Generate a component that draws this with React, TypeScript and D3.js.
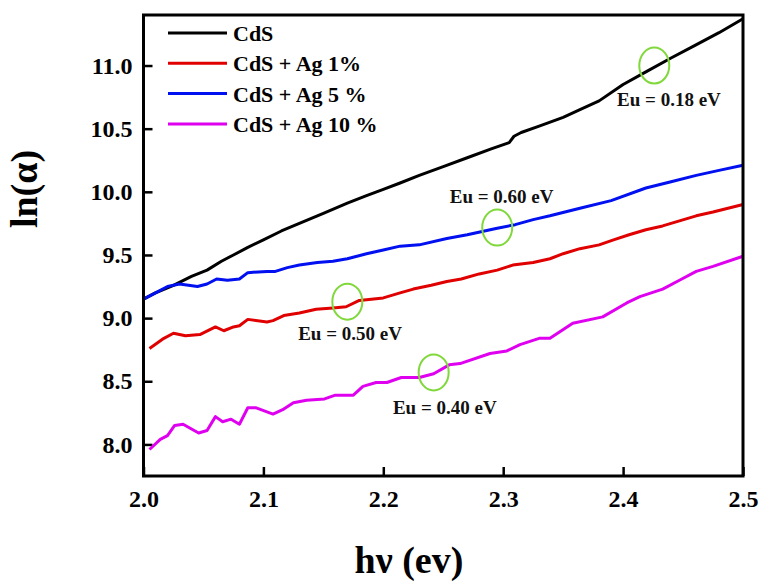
import { useRef, useEffect } from "react"
import * as d3 from "d3"

// hv (eV) vs ln(alpha)
const cds: [number, number][] = [
  [2.0, 9.15], [2.01, 9.2], [2.025, 9.26], [2.04, 9.33], [2.053, 9.38], [2.065, 9.45],
  [2.075, 9.5], [2.087, 9.56], [2.1, 9.62], [2.115, 9.69], [2.13, 9.75], [2.15, 9.83],
  [2.17, 9.91], [2.186, 9.97], [2.2, 10.02], [2.214, 10.07], [2.23, 10.13], [2.25, 10.2],
  [2.27, 10.27], [2.29, 10.34], [2.305, 10.39], [2.309, 10.44], [2.315, 10.47], [2.33, 10.52],
  [2.35, 10.59], [2.364, 10.65], [2.38, 10.72], [2.4, 10.85], [2.419, 10.95], [2.44, 11.06],
  [2.46, 11.16], [2.48, 11.26], [2.5, 11.37],
]

const cdsAg1: [number, number][] = [
  [2.005, 8.76], [2.017, 8.84], [2.025, 8.88], [2.035, 8.86], [2.047, 8.87], [2.06, 8.93],
  [2.067, 8.9], [2.075, 8.93], [2.08, 8.94], [2.087, 8.99], [2.103, 8.97], [2.108, 8.98],
  [2.117, 9.02], [2.13, 9.04], [2.144, 9.07], [2.158, 9.08], [2.169, 9.09], [2.18, 9.14],
  [2.2, 9.16], [2.214, 9.2], [2.225, 9.23], [2.24, 9.26], [2.253, 9.29], [2.265, 9.31],
  [2.28, 9.35], [2.295, 9.38], [2.308, 9.42], [2.325, 9.44], [2.339, 9.47], [2.35, 9.51],
  [2.364, 9.55], [2.38, 9.58], [2.392, 9.62], [2.405, 9.66], [2.419, 9.7], [2.433, 9.73],
  [2.447, 9.77], [2.461, 9.81], [2.475, 9.84], [2.5, 9.9],
]

const cdsAg5: [number, number][] = [
  [2.0, 9.15], [2.01, 9.2], [2.02, 9.25], [2.03, 9.27], [2.045, 9.25], [2.053, 9.27],
  [2.061, 9.31], [2.07, 9.3], [2.08, 9.31], [2.087, 9.36], [2.103, 9.37], [2.11, 9.37],
  [2.12, 9.4], [2.13, 9.42], [2.145, 9.44], [2.158, 9.45], [2.17, 9.47], [2.186, 9.51],
  [2.2, 9.54], [2.214, 9.57], [2.23, 9.58], [2.253, 9.63], [2.27, 9.66], [2.294, 9.71],
  [2.31, 9.74], [2.325, 9.78], [2.339, 9.81], [2.364, 9.87], [2.39, 9.93], [2.419, 10.03],
  [2.44, 10.08], [2.461, 10.13], [2.48, 10.17], [2.5, 10.21],
]

const cdsAg10: [number, number][] = [
  [2.005, 7.96], [2.014, 8.04], [2.02, 8.07], [2.026, 8.15], [2.033, 8.16], [2.046, 8.09],
  [2.053, 8.11], [2.06, 8.22], [2.066, 8.18], [2.073, 8.2], [2.08, 8.16], [2.087, 8.29],
  [2.094, 8.29], [2.108, 8.24], [2.117, 8.28], [2.125, 8.33], [2.136, 8.35], [2.151, 8.36],
  [2.16, 8.39], [2.175, 8.39], [2.183, 8.46], [2.194, 8.49], [2.203, 8.49], [2.215, 8.53],
  [2.23, 8.53], [2.242, 8.56], [2.255, 8.63], [2.264, 8.64], [2.289, 8.72], [2.303, 8.74],
  [2.314, 8.79], [2.33, 8.84], [2.339, 8.84], [2.358, 8.96], [2.383, 9.01], [2.403, 9.12],
  [2.414, 9.17], [2.433, 9.23], [2.447, 9.3], [2.461, 9.37], [2.475, 9.41], [2.5, 9.49],
]

const seriesNames = ["CdS", "CdS + Ag 1%", "CdS + Ag 5 %", "CdS + Ag 10 %"]
const seriesColors = ["#000000", "#e00000", "#0010f0", "#e000f0"]
const seriesData = [cds, cdsAg1, cdsAg5, cdsAg10]

const xTicks = [2.0, 2.1, 2.2, 2.3, 2.4, 2.5]
const yTicks = [8.0, 8.5, 9.0, 9.5, 10.0, 10.5, 11.0]

// Urbach energy markers: circle centre and label anchor, in data units
const urbachLabels = ["Eu = 0.18 eV", "Eu = 0.60 eV", "Eu = 0.50 eV", "Eu = 0.40 eV"]
const urbachCircles: [number, number][] = [[2.426, 11.0], [2.295, 9.717], [2.17, 9.13], [2.242, 8.57]]
const urbachText: [number, number][] = [[2.395, 10.68], [2.2554, 9.915], [2.129, 8.83], [2.208, 8.24]]

const FONT = "'Liberation Serif', 'Times New Roman', serif"

export default function App() {
  const svgRef = useRef<SVGSVGElement>(null)

  useEffect(() => {
    if (!svgRef.current) return
    const svg = d3.select(svgRef.current)
    svg.selectAll("*").remove()

    const margin = { top: 15, right: 33, bottom: 110, left: 143.5 }
    const width = 776
    const height = 586
    const innerWidth = width - margin.left - margin.right
    const innerHeight = height - margin.top - margin.bottom

    const xScale = d3.scaleLinear().domain([2.0, 2.5]).range([0, innerWidth])
    const yScale = d3.scaleLinear().domain([7.75, 11.4]).range([innerHeight, 0])

    const g = svg.append("g").attr("transform", `translate(${margin.left}, ${margin.top})`)

    // Axes with inward ticks
    const xAxis = g
      .append("g")
      .attr("transform", `translate(0, ${innerHeight})`)
      .call(
        d3
          .axisBottom(xScale)
          .tickValues(xTicks)
          .tickSizeInner(-9)
          .tickSizeOuter(0)
          .tickPadding(14)
          .tickFormat(d3.format(".1f")),
      )
    const yAxis = g
      .append("g")
      .call(
        d3
          .axisLeft(yScale)
          .tickValues(yTicks)
          .tickSizeInner(-9)
          .tickSizeOuter(0)
          .tickPadding(11)
          .tickFormat(d3.format(".1f")),
      )

    ;[xAxis, yAxis].forEach((ax) => {
      ax.select(".domain").remove()
      ax.selectAll(".tick line").attr("stroke", "#000").attr("stroke-width", 2.5)
      ax.selectAll(".tick text")
        .attr("fill", "#000")
        .attr("font-family", FONT)
        .attr("font-weight", "bold")
        .attr("font-size", "24px")
    })

    // Lines
    const line = d3
      .line<[number, number]>()
      .x((d) => xScale(d[0]))
      .y((d) => yScale(d[1]))

    seriesData.forEach((data, i) => {
      g.append("path")
        .datum(data)
        .attr("fill", "none")
        .attr("stroke", seriesColors[i])
        .attr("stroke-width", 3)
        .attr("stroke-linejoin", "round")
        .attr("d", line)
    })

    // Frame
    g.append("rect")
      .attr("width", innerWidth)
      .attr("height", innerHeight)
      .attr("fill", "none")
      .attr("stroke", "#000")
      .attr("stroke-width", 3)

    // Urbach markers
    urbachCircles.forEach((c, i) => {
      g.append("ellipse")
        .attr("cx", xScale(c[0]))
        .attr("cy", yScale(c[1]))
        .attr("rx", 15)
        .attr("ry", 18)
        .attr("fill", "none")
        .attr("stroke", "#80d83c")
        .attr("stroke-width", 2)

      g.append("text")
        .attr("x", xScale(urbachText[i][0]))
        .attr("y", yScale(urbachText[i][1]))
        .attr("font-family", FONT)
        .attr("font-weight", "bold")
        .attr("font-size", "19px")
        .attr("fill", "#111")
        .text(urbachLabels[i])
    })

    // Legend
    const legend = svg.append("g").attr("transform", "translate(168, 33)")
    seriesNames.forEach((name, i) => {
      const row = legend.append("g").attr("transform", `translate(0, ${i * 30.3})`)
      row.append("line").attr("x1", 0).attr("x2", 59).attr("stroke", seriesColors[i]).attr("stroke-width", 3)
      row
        .append("text")
        .attr("x", 65)
        .attr("y", 8)
        .attr("font-family", FONT)
        .attr("font-weight", "bold")
        .attr("font-size", "22px")
        .attr("fill", "#000")
        .text(name)
    })

    // Axis titles
    svg
      .append("text")
      .attr("transform", `translate(37, 189) rotate(-90)`)
      .attr("text-anchor", "middle")
      .attr("font-family", FONT)
      .attr("font-weight", "bold")
      .attr("font-size", "38px")
      .text("ln(α)")

    svg
      .append("text")
      .attr("x", 409)
      .attr("y", 573)
      .attr("text-anchor", "middle")
      .attr("font-family", FONT)
      .attr("font-weight", "bold")
      .attr("font-size", "38px")
      .text("hν (ev)")
  }, [])

  return (
    <div style={{ position: "absolute", left: 0, top: 0, width: 776, height: 586, background: "#fff" }}>
      <svg ref={svgRef} width={776} height={586} />
    </div>
  )
}
